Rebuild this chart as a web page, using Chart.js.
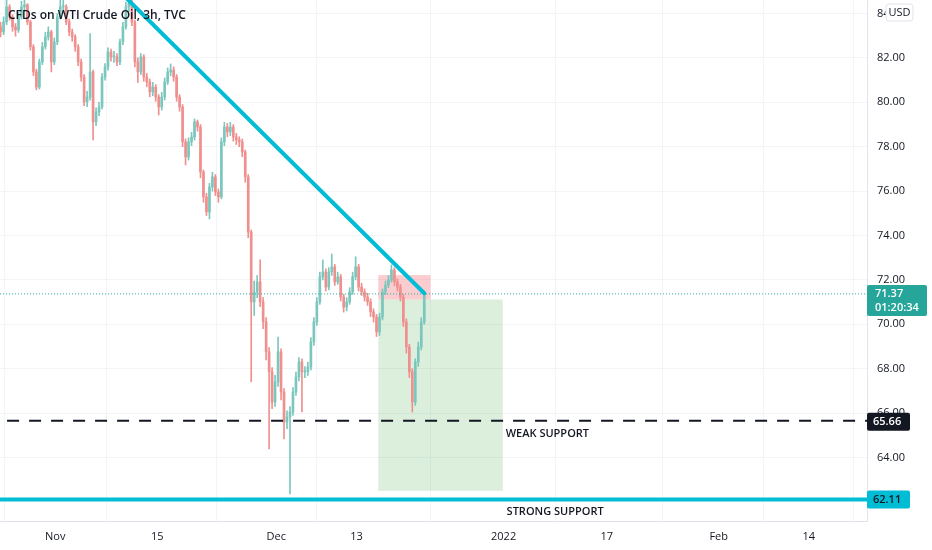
<!DOCTYPE html>
<html><head><meta charset="utf-8">
<script src="https://cdn.jsdelivr.net/npm/chart.js@4.4.1/dist/chart.umd.min.js"></script>
<style>html,body{margin:0;padding:0;background:#fff;}#wrap{width:932px;height:550px;position:relative;}</style>
</head><body><div id="wrap"><canvas id="c"></canvas></div>
<script>
// ---- data (3h candles, CFDs on WTI Crude Oil) ----
const opens = [83.40,83.17,83.62,84.30,83.85,83.40,83.26,83.85,84.30,84.39,
83.62,82.50,81.37,80.69,81.82,82.50,82.95,83.17,81.82,82.72,
83.85,84.30,84.30,83.62,83.17,82.95,82.50,81.82,81.14,80.02,
80.24,81.37,79.12,79.57,79.79,81.14,81.59,82.27,82.05,82.05,
81.82,82.72,83.40,84.30,84.45,83.62,81.82,81.37,82.05,81.14,
80.92,80.47,80.69,80.24,79.79,80.24,80.92,81.37,81.46,81.14,
80.24,79.79,78.22,77.54,78.22,78.44,79.12,78.89,76.86,75.74,
75.06,76.19,76.64,75.96,75.74,78.22,78.89,78.67,78.89,78.44,
78.31,78.22,77.77,76.64,74.16,71.01,71.46,71.91,71.01,70.11,
68.76,67.86,66.50,67.41,68.76,66.95,65.60,65.83,66.05,66.95,
67.63,68.31,67.86,67.86,68.08,69.21,70.11,71.01,72.14,72.36,
71.68,72.36,72.59,71.91,72.14,71.23,70.78,71.01,71.46,72.14,
72.59,71.68,71.46,71.23,71.01,70.56,70.33,69.66,70.33,71.46,
71.77,72.00,72.45,71.91,71.68,71.23,70.11,68.98,67.86,66.50,
68.31,68.98,70.11];
const highs = [83.62,83.85,84.60,84.40,83.95,83.55,84.05,84.55,84.70,84.45,
83.70,82.60,81.50,81.95,82.70,83.15,83.40,83.25,82.90,84.00,
84.60,84.65,84.40,83.75,83.30,83.05,82.60,81.95,81.25,80.50,
83.10,81.45,79.75,80.00,81.30,81.75,82.45,82.40,82.30,82.20,
82.85,83.60,84.50,84.80,84.60,83.70,82.00,82.20,82.15,81.30,
81.05,80.90,80.80,80.35,80.45,81.10,81.55,81.73,81.60,81.25,
80.35,79.90,78.35,78.40,78.65,79.25,79.20,79.00,76.95,75.90,
76.35,76.85,76.75,76.10,78.40,79.10,79.05,79.10,79.00,78.60,
78.45,78.35,77.85,76.75,74.25,71.95,72.20,72.90,71.20,70.30,
68.95,68.05,67.70,69.43,68.90,67.10,66.10,66.30,67.15,67.85,
68.50,68.45,68.10,68.30,69.40,70.30,71.20,72.35,72.90,72.50,
72.55,73.17,72.70,72.35,72.25,71.35,71.20,71.65,72.35,73.04,
72.70,71.85,71.60,71.40,71.15,70.70,70.45,70.50,71.60,71.95,
72.20,72.68,72.55,72.05,71.80,71.35,70.25,69.10,68.00,68.45,
69.20,70.30,71.50];
const lows = [82.95,83.05,83.50,83.70,83.20,82.98,83.15,83.75,84.10,83.50,
82.35,81.20,80.56,80.60,81.70,82.40,82.80,81.37,81.70,82.60,
83.75,84.05,83.50,83.00,82.75,82.30,81.65,80.95,79.85,79.80,
80.10,78.31,78.95,79.40,79.70,81.00,81.45,81.85,81.80,81.65,
81.70,82.60,83.30,84.10,83.45,81.60,80.90,81.25,80.95,80.70,
80.25,80.30,80.05,79.43,79.65,80.10,80.80,81.20,80.95,80.05,
79.60,78.00,77.18,77.40,78.05,78.30,78.70,76.60,75.50,74.90,
74.75,76.00,75.80,75.50,75.65,78.05,78.45,78.50,78.25,78.10,
78.00,77.55,76.40,73.90,67.41,70.40,71.20,70.80,69.80,68.40,
64.39,66.20,66.30,67.20,66.60,64.84,65.30,62.36,65.90,66.80,
67.45,66.05,67.60,67.70,67.95,69.05,69.95,70.90,72.00,71.50,
71.55,72.20,71.75,71.80,71.05,70.55,70.60,70.90,71.35,72.00,
71.50,71.30,71.05,70.85,70.35,70.10,69.45,69.50,70.20,71.35,
71.65,71.90,71.75,71.50,71.05,69.90,68.70,67.60,66.05,66.35,
68.10,68.85,70.00];
const closes = [83.17,83.62,84.30,83.85,83.40,83.26,83.85,84.30,84.39,83.62,
82.50,81.37,80.69,81.82,82.50,82.95,83.17,81.82,82.72,83.85,
84.30,84.30,83.62,83.17,82.95,82.50,81.82,81.14,80.02,80.24,
81.37,79.12,79.57,79.79,81.14,81.59,82.27,82.05,82.05,81.82,
82.72,83.40,84.30,84.45,83.62,81.82,81.37,82.05,81.14,80.92,
80.47,80.69,80.24,79.79,80.24,80.92,81.37,81.46,81.14,80.24,
79.79,78.22,77.54,78.22,78.44,79.12,78.89,76.86,75.74,75.06,
76.19,76.64,75.96,75.74,78.22,78.89,78.67,78.89,78.44,78.31,
78.22,77.77,76.64,74.16,71.01,71.46,71.91,71.01,70.11,68.76,
67.86,66.50,67.41,68.76,66.95,65.60,65.83,66.05,66.95,67.63,
68.31,67.86,67.86,68.08,69.21,70.11,71.01,72.14,72.36,71.68,
72.36,72.59,71.91,72.14,71.23,70.78,71.01,71.46,72.14,72.59,
71.68,71.46,71.23,71.01,70.56,70.33,69.66,70.33,71.46,71.77,
72.00,72.45,71.91,71.68,71.23,70.11,68.98,67.86,66.50,68.31,
68.98,70.11,71.37];
// time-axis ticks (bar index of each date) and labels
const tickPositions = [18.3, 52.5, 92.4, 119.3, 168.6, 203.2, 240.7, 270.9];
const tickLabels = ['Nov','15','Dec','13','2022','17','Feb','14'];
const priceTicks = [64,66,68,70,72,74,76,78,80,82,84];
// drawings
const trendLine = [{x:39.4,y:85.06},{x:142,y:71.40}];
const lastPrice = 71.37;
const countdown = '01:20:34';
const weakSupport = 65.66;
const strongSupport = 62.11;
const stopBox = [126.6, 144.1, 71.12, 72.22];    // x0, x1, low, high
const targetBox = [126.6, 168.3, 62.50, 71.12];
const notes = [['WEAK SUPPORT', 169.3, 65.06], ['STRONG SUPPORT', 169.6, 61.55]];
const titleText = 'CFDs on WTI Crude Oil, 3h, TVC';

const X_MIN = -0.2, X_MAX = 290.4, Y_MIN = 61.14, Y_MAX = 84.61;
const UP = '#7cc7bd', DOWN = '#f0908e', CYAN = '#00bcd4', TXT = '#131722';
const FONT = "'Open Sans', sans-serif";

const colors = closes.map((c,i)=> c >= opens[i] ? UP : DOWN);
const wickData = closes.map((c,i)=>({x:i, y:[lows[i], highs[i]]}));
const bodyData = closes.map((c,i)=>({x:i, y:[opens[i], c]}));
const hLine = v => [{x:X_MIN-5,y:v},{x:X_MAX+5,y:v}];

function rrect(ctx,x,y,w,h,r){ctx.beginPath();ctx.moveTo(x+r,y);ctx.lineTo(x+w-r,y);ctx.quadraticCurveTo(x+w,y,x+w,y+r);ctx.lineTo(x+w,y+h-r);ctx.quadraticCurveTo(x+w,y+h,x+w-r,y+h);ctx.lineTo(x+r,y+h);ctx.quadraticCurveTo(x,y+h,x,y+h-r);ctx.lineTo(x,y+r);ctx.quadraticCurveTo(x,y,x+r,y);ctx.closePath();}

const zeroPad = s => { s.paddingTop = 0; s.paddingBottom = 0; s.paddingLeft = 0; s.paddingRight = 0; };

const overlay = {
  id:'overlay',
  beforeDatasetsDraw(chart){
    const {ctx, scales:{x,y}} = chart;
    ctx.save();
    const box = (b,col)=>{const l=x.getPixelForValue(b[0]), r=x.getPixelForValue(b[1]);
      const t=y.getPixelForValue(b[3]), bt=y.getPixelForValue(b[2]); ctx.fillStyle=col; ctx.fillRect(l,t,r-l,bt-t);};
    box(targetBox,'rgba(76,175,80,0.2)');
    box(stopBox,'rgba(242,54,69,0.25)');
    ctx.restore();
  },
  afterDraw(chart){
    const {ctx, scales:{x,y}, chartArea:a} = chart;
    ctx.save();
    ctx.font = "600 11px "+FONT; ctx.fillStyle = TXT; ctx.textBaseline='middle'; ctx.textAlign='left';
    notes.forEach(n=>ctx.fillText(n[0], x.getPixelForValue(n[1]), y.getPixelForValue(n[2])));
    ctx.font = "600 12px "+FONT; ctx.fillText(titleText, 8, 16);
    const L = a.right;
    let py = y.getPixelForValue(lastPrice);
    ctx.fillStyle = '#26a69a'; rrect(ctx, L, py-9, 60, 31, 2); ctx.fill();
    ctx.fillStyle = '#fff'; ctx.font = "600 11px "+FONT; ctx.textAlign='left';
    ctx.fillText(lastPrice.toFixed(2), L+8, py); ctx.fillText(countdown, L+8, py+14);
    py = y.getPixelForValue(weakSupport);
    ctx.fillStyle = '#131722'; rrect(ctx, L, py-8, 43, 18, 2); ctx.fill();
    ctx.fillStyle = '#fff'; ctx.fillText(weakSupport.toFixed(2), L+6, py+1);
    py = y.getPixelForValue(strongSupport);
    ctx.fillStyle = CYAN; rrect(ctx, L, py-9, 43, 18, 2); ctx.fill();
    ctx.fillStyle = TXT; ctx.fillText(strongSupport.toFixed(2), L+6, py);
    ctx.fillStyle='#fff'; rrect(ctx, 886, 4, 27, 17, 3); ctx.fill();
    ctx.strokeStyle='#e0e3eb'; ctx.lineWidth=1; ctx.stroke();
    ctx.fillStyle=TXT; ctx.font="11px "+FONT; ctx.textAlign='center'; ctx.fillText('USD', 899.5, 13);
    ctx.restore();
  }
};

new Chart(document.getElementById('c'), {
  type:'bar',
  data:{datasets:[
    {type:'line', data: trendLine, borderColor: CYAN, borderWidth:4, pointRadius:0, order:0, borderCapStyle:'round'},
    {type:'line', data: hLine(strongSupport), borderColor: CYAN, borderWidth:4, pointRadius:0, order:1},
    {type:'line', data: hLine(weakSupport), borderColor: '#131722', borderWidth:2, borderDash:[12,10], pointRadius:0, order:2},
    {type:'line', data: hLine(lastPrice), borderColor: '#26a69a', borderWidth:1, borderDash:[1,2], pointRadius:0, order:3},
    {type:'bar', data: bodyData, backgroundColor: colors, barThickness:2, minBarLength:1, grouped:false, order:5},
    {type:'bar', data: wickData, backgroundColor: colors, barThickness:1, grouped:false, order:6}
  ]},
  options:{
    responsive:true, maintainAspectRatio:false, animation:false,
    layout:{padding:0},
    plugins:{legend:{display:false}, tooltip:{enabled:false}, title:{display:false}},
    scales:{
      x:{type:'linear', min:X_MIN, max:X_MAX, offset:false,
        afterBuildTicks: s => { s.ticks = tickPositions.map(v=>({value:v})); },
        afterFit: s => { s.height = 29; zeroPad(s); },
        ticks:{autoSkip:false, maxRotation:0, padding:9, color:TXT, font:{family:FONT, size:11},
          callback:(v,i)=> tickLabels[i]},
        grid:{color:'#f2f4f8', drawTicks:false},
        border:{color:'#e0e3eb'}
      },
      y:{position:'right', min:Y_MIN, max:Y_MAX,
        afterBuildTicks: s => { s.ticks = priceTicks.map(v=>({value:v})); },
        afterFit: s => { s.width = 65; zeroPad(s); },
        ticks:{padding:10, color:TXT, font:{family:FONT, size:11}, callback:v=>Number(v).toFixed(2)},
        grid:{color:'#f2f4f8', drawTicks:false},
        border:{color:'#e0e3eb'}
      }
    }
  },
  plugins:[overlay]
});
</script></body></html>
